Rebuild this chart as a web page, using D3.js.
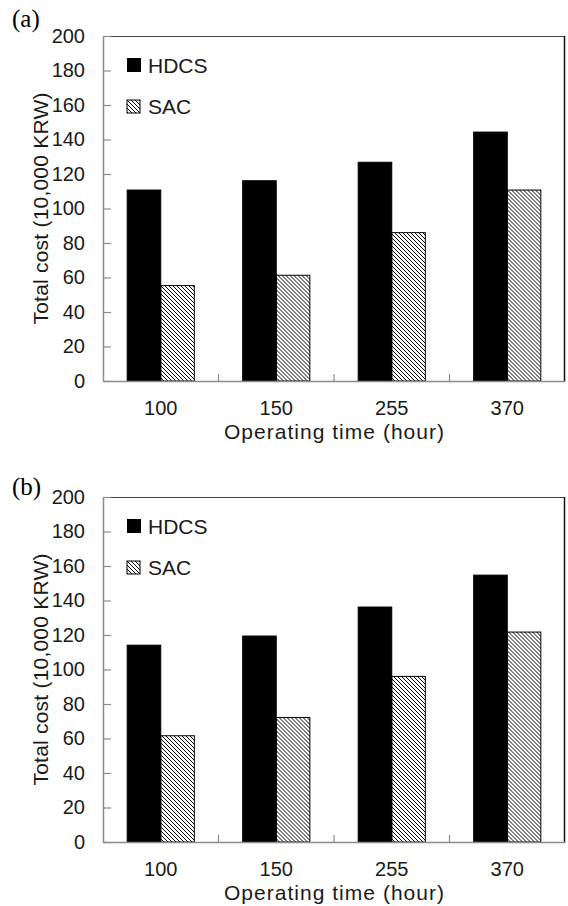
<!DOCTYPE html>
<html>
<head>
<meta charset="utf-8">
<script src="https://cdn.jsdelivr.net/npm/d3@7"></script>
<style>
  body { margin: 0; background: #fff; }
  svg { display: block; }
  text { font-family: "Liberation Sans", Arial, sans-serif; fill: #1a1a1a; }
</style>
</head>
<body>
<svg id="chart"></svg>
<script>
// data
var hours = ["100", "150", "255", "370"];
var seriesNames = ["HDCS", "SAC"];
var hdcsA = [110.7, 116.1, 126.8, 144.3];
var sacA  = [55.3, 61.3, 86.0, 110.7];
var hdcsB = [114.1, 119.4, 136.2, 154.7];
var sacB  = [61.6, 72.2, 96.0, 121.7];
var yTicks = [0, 20, 40, 60, 80, 100, 120, 140, 160, 180, 200];

var svgWidth = 568, svgHeight = 906;
var svg = d3.select("#chart")
  .attr("width", svgWidth)
  .attr("height", svgHeight);

// diagonal hatch used for the SAC bars
var defs = svg.append("defs");
defs.append("pattern")
  .attr("id", "hatch")
  .attr("patternUnits", "userSpaceOnUse")
  .attr("width", 4)
  .attr("height", 4)
  .append("path")
  .attr("d", "M-1,-1 L5,5 M-1,3 L1,5 M3,-1 L5,1")
  .attr("stroke", "#000")
  .attr("stroke-width", 1);

function drawPanel(top, label, hdcs, sac) {
  var left = 103, right = 565, height = 345;

  var g = svg.append("g")
    .attr("transform", "translate(0," + top + ")");

  var x0 = d3.scaleBand().domain(hours).range([left, right]).padding(0);
  var x1 = d3.scaleBand().domain(seriesNames).range([0, x0.bandwidth()])
    .paddingInner(0).paddingOuter(0.72);
  var y = d3.scaleLinear().domain([0, 200]).range([height, 0]);

  var rows = hours.map(function(h, i) {
    return { hour: h, values: [
      { key: "HDCS", value: hdcs[i] },
      { key: "SAC", value: sac[i] }
    ]};
  });

  // top and right frame lines
  g.append("line")
    .attr("x1", left).attr("x2", right)
    .attr("y1", 0.5).attr("y2", 0.5)
    .attr("stroke", "#444").attr("stroke-width", 1.2);
  g.append("line")
    .attr("x1", right - 0.5).attr("x2", right - 0.5)
    .attr("y1", 0).attr("y2", height)
    .attr("stroke", "#111").attr("stroke-width", 1.5);

  // bars
  g.selectAll(".group")
    .data(rows)
    .enter().append("g")
    .attr("transform", function(d) { return "translate(" + x0(d.hour) + ",0)"; })
    .selectAll("rect")
    .data(function(d) { return d.values; })
    .enter().append("rect")
    .attr("x", function(d) { return x1(d.key); })
    .attr("y", function(d) { return y(d.value); })
    .attr("width", x1.bandwidth())
    .attr("height", function(d) { return height - y(d.value); })
    .attr("fill", function(d) { return d.key === "HDCS" ? "#000" : "url(#hatch)"; })
    .attr("stroke", "#000")
    .attr("stroke-width", 1);

  // y axis, ticks pointing inward
  var yAxis = g.append("g")
    .attr("transform", "translate(" + left + ",0)")
    .call(d3.axisLeft(y).tickValues(yTicks).tickSizeInner(-8).tickSizeOuter(0).tickPadding(18));
  yAxis.select(".domain").attr("stroke", "#8c8c8c").attr("stroke-width", 1.5);
  yAxis.selectAll(".tick line").attr("stroke", "#8c8c8c").attr("stroke-width", 1.2);
  yAxis.selectAll("text").style("font-size", "20px").attr("fill", "#1a1a1a")
    .style("font-family", "'Liberation Sans', Arial, sans-serif");

  // x axis with labels in the middle of each category
  var xAxis = g.append("g")
    .attr("transform", "translate(0," + height + ")")
    .call(d3.axisBottom(x0).tickSize(0).tickPadding(20));
  xAxis.select(".domain").attr("stroke", "#8c8c8c").attr("stroke-width", 1.5);
  xAxis.selectAll("text").style("font-size", "20px").attr("fill", "#1a1a1a")
    .style("font-family", "'Liberation Sans', Arial, sans-serif");

  // category boundary ticks, pointing up
  g.selectAll(".bound")
    .data(hours.slice(1))
    .enter().append("line")
    .attr("x1", function(d) { return x0(d); })
    .attr("x2", function(d) { return x0(d); })
    .attr("y1", height - 7).attr("y2", height)
    .attr("stroke", "#8c8c8c").attr("stroke-width", 1.2);

  // legend
  var legend = g.selectAll(".legend")
    .data(seriesNames)
    .enter().append("g")
    .attr("transform", function(d, i) { return "translate(127," + (22 + i * 42) + ")"; });
  legend.append("rect")
    .attr("width", function(d, i) { return i === 0 ? 14 : 13; })
    .attr("height", function(d, i) { return i === 0 ? 14 : 13; })
    .attr("fill", function(d, i) { return i === 0 ? "#000" : "url(#hatch)"; })
    .attr("stroke", "#000")
    .attr("stroke-width", function(d, i) { return i === 0 ? 0 : 1; });
  legend.append("text")
    .attr("x", 21)
    .attr("y", function(d, i) { return i === 0 ? 14.5 : 13.5; })
    .style("font-size", "21px")
    .text(function(d) { return d; });

  // axis titles
  g.append("text")
    .attr("x", (left + right) / 2)
    .attr("y", height + 58)
    .attr("text-anchor", "middle")
    .attr("textLength", 220)
    .attr("lengthAdjust", "spacing")
    .style("font-size", "21px")
    .text("Operating time (hour)");

  g.append("text")
    .attr("transform", "translate(48," + (height / 2) + ") rotate(-90)")
    .attr("text-anchor", "middle")
    .attr("textLength", 232)
    .attr("lengthAdjust", "spacing")
    .style("font-size", "21px")
    .text("Total cost (10,000 KRW)");

  // panel label
  svg.append("text")
    .attr("x", 12)
    .attr("y", label.y)
    .style("font-family", "'Liberation Serif', 'Times New Roman', serif")
    .style("font-size", "25px")
    .style("fill", "#000")
    .text(label.text);
}

drawPanel(36, { text: "(a)", y: 27 }, hdcsA, sacA);
drawPanel(497, { text: "(b)", y: 495 }, hdcsB, sacB);
</script>
</body>
</html>
